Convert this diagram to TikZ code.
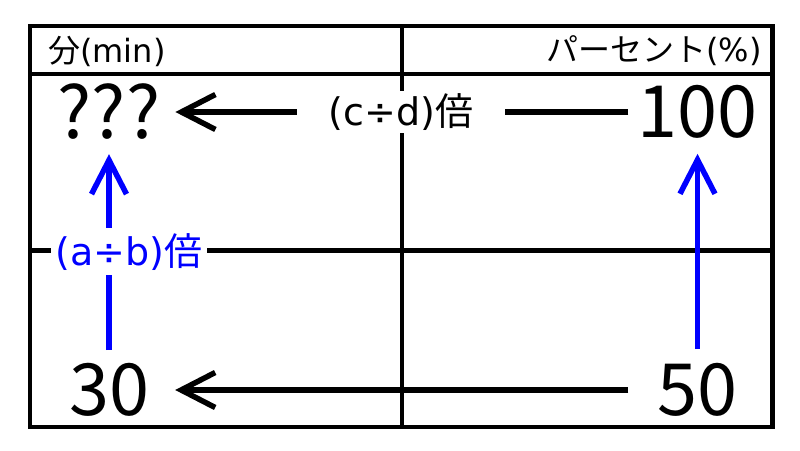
\documentclass[tikz,border=0pt]{standalone}
\usepackage{fontspec}
\setmainfont{Noto Sans CJK JP}
\newfontfamily\lat{DejaVu Sans}
\usetikzlibrary{arrows.meta}

\begin{document}
\begin{tikzpicture}[x=1pt, y=-1pt,
    num/.style={inner sep=0pt, font=\fontsize{72}{80}\selectfont},
    head/.style={inner sep=0pt, font=\fontsize{32}{36}\selectfont},
    arr/.style={line width=5.5pt, -{Straight Barb[length=34pt,width=35pt]}},
    lbl/.style={fill=white, font=\fontsize{38}{42}\selectfont}]
        \useasboundingbox (0,0) rectangle (800,450);
        \draw[line width=4.5pt] (30,26) rectangle (772.5,427);
        \draw[line width=4.5pt] (30,74) -- (772.5,74);
        \draw[line width=4.5pt] (30,250.5) -- (772.5,250.5);
        \draw[line width=4.5pt] (402,26) -- (402,427);
        \node[head, anchor=west] (minhead) at (48,51) {分{\lat(min)}};
        \node[head, anchor=east] (pcthead) at (762,51) {パーセント{\lat(\%)}};
        \node[num] (qqq) at (109,112) {???};
        \node[num] (hundred) at (697.5,112) {100};
        \node[num] (thirty) at (109,390) {30};
        \node[num] (fifty) at (697.5,390) {50};
        \draw[arr, shorten <=9pt, shorten >=15pt] (hundred) -- node[lbl, xshift=2pt, inner xsep=32pt, inner ysep=3pt] {{\lat(c÷d)}倍} (qqq);
        \draw[arr, shorten <=29pt, shorten >=26pt] (fifty) -- (thirty);
        \draw[arr, blue, shorten <=13pt, shorten >=14pt] (thirty) -- node[lbl, text=blue, xshift=20pt, inner sep=5pt] {{\lat(a÷b)}倍} (qqq);
        \draw[arr, blue, shorten <=14pt, shorten >=15pt] (fifty) -- (hundred);
    \end{tikzpicture}
\end{document}
